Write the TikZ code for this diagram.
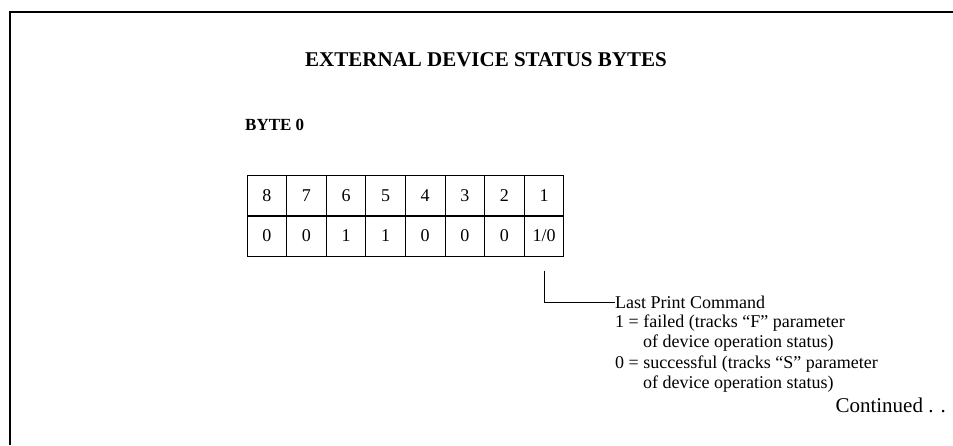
\documentclass[tikz,border=0pt]{standalone}
\usepackage{fontspec}
\setmainfont{Liberation Serif}
\usepackage{tikz}
\usetikzlibrary{positioning, calc}

\tikzset{
  bitcell/.style={draw, line width=0.9pt, minimum width=39.6pt, minimum height=40.3pt,
    inner sep=0pt, font=\fontsize{18}{20}\selectfont},
  notetext/.style={inner sep=0pt, anchor=west, font=\fontsize{18}{20}\selectfont}
}

\begin{document}
\begin{tikzpicture}[x=1pt, y=1pt]
  % page 953 x 445, one unit = one pixel of the scan
  \useasboundingbox (0,0) rectangle (953,445);
  % open frame: top and left rule only
  \draw[line width=1.8pt] (10,0) -- (10,433) -- (953,433);
  % heading
  \node[font=\fontsize{21}{23}\selectfont\bfseries] (title) at (486,385) {EXTERNAL DEVICE STATUS BYTES};
  \node[font=\fontsize{17}{19}\selectfont\bfseries, anchor=west, inner sep=0pt] (byte) at (245,320) {BYTE 0};
  % bit numbers (top row) and values (bottom row)
  \foreach \b/\v [count=\i] in {8/0, 7/0, 6/1, 5/1, 4/0, 3/0, 2/0, 1/{1/0}} {
    \node[bitcell] (top\b) at ({247+19.8+(\i-1)*39.6},249) {\b};
    \node[bitcell] (val\b) at ({247+19.8+(\i-1)*39.6},209) {\v};
  }
  % note on bit 1
  \node[notetext] (note0) at (615,143) {Last Print Command};
  \node[notetext] (note1) at (615,122) {1 = failed (tracks ``F'' parameter};
  \node[notetext] (note2) at (643,102) {of device operation status)};
  \node[notetext] (note3) at (615,81) {0 = successful (tracks ``S'' parameter};
  \node[notetext] (note4) at (643,61) {of device operation status)};
  \coordinate (lead) at ($(val1.south)+(0,-14)$);
  \draw[line width=0.9pt] (lead) |- (note0.west);
  % page footer
  \node[font=\fontsize{21}{23}\selectfont, anchor=east, inner sep=0pt] (cont) at (946,40) {Continued . .};
\end{tikzpicture}
\end{document}
